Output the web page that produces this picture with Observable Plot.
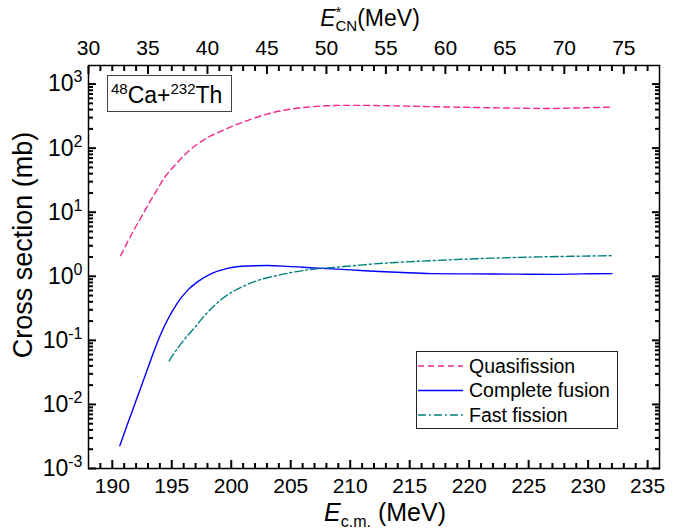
<!DOCTYPE html>
<html>
<head>
<meta charset="utf-8">
<script src="https://cdn.jsdelivr.net/npm/d3@7"></script>
<script src="https://cdn.jsdelivr.net/npm/@observablehq/plot@0.6"></script>
<style>
html,body{margin:0;padding:0;background:#fff;}
#chart svg{display:block;}
</style>
</head>
<body>
<div id="chart"></div>
<script>
// ---------------- data ----------------
const qfEnergy = [190.7, 191.2, 191.8, 192.4, 193.2, 193.8, 194.4, 195.3, 196.3, 197.7, 199.3, 201.4, 203.0, 204.7, 206.3, 208.0, 210.0, 212.0, 215.0, 218.0, 221.0, 224.0, 226.5, 229.0, 232.0];
const qfSigma  = [2.1, 3.2, 5.2, 8.2, 15, 23, 35, 55, 86, 135, 190, 272, 340, 398, 435, 458, 466, 463, 452, 440, 430, 421, 416, 424, 438];

const cfEnergy = [190.63, 191.28, 191.84, 192.4, 192.96, 193.52, 194.08, 194.64, 195.48, 196.32, 197.16, 198.29, 199.69, 201.37, 203.05, 204.74, 206.97, 210.06, 212.0, 214.0, 216.8, 220.0, 224.0, 227.0, 229.5, 232.0];
const cfSigma  = [0.00226, 0.00494, 0.00955, 0.01845, 0.0357, 0.069, 0.126, 0.208, 0.384, 0.603, 0.818, 1.09, 1.33, 1.45, 1.47, 1.43, 1.35, 1.26, 1.2, 1.155, 1.1, 1.09, 1.08, 1.07, 1.09, 1.1];

const ffEnergy = [194.78, 195.76, 196.88, 198.01, 199.4, 200.81, 202.21, 204.17, 206.42, 208.66, 210.06, 212.0, 214.0, 217.0, 220.0, 222.4, 225.0, 228.0, 232.0];
const ffSigma  = [0.048, 0.088, 0.155, 0.274, 0.47, 0.67, 0.857, 1.06, 1.26, 1.38, 1.45, 1.56, 1.65, 1.76, 1.86, 1.93, 1.99, 2.04, 2.1];

const seriesNames = ["Quasifission", "Complete fusion", "Fast fission"];
const ecmTicks = [190, 195, 200, 205, 210, 215, 220, 225, 230, 235];
const eStarTicks = [30, 35, 40, 45, 50, 55, 60, 65, 70, 75];
const sigmaTicks = [1e-3, 1e-2, 1e-1, 1, 10, 100, 1000];
const sigmaTickLabels = ["10^-3", "10^-2", "10^-1", "10^0", "10^1", "10^2", "10^3"];
const eStarOffset = 158; // E*CN = Ecm - 158 MeV
const ecmDomain = [188, 236];
const sigmaDomain = [1e-3, 1950];

// ---------------- layout ----------------
const W = 689, H = 529, mL = 88, mR = 30, mT = 65, mB = 61;
const majorLen = 8, minorLen = 5;
const FONT = "'Liberation Sans', Arial, Helvetica, sans-serif";
const colors = ["#f0288c", "#0000ff", "#008080"];
const dashes = ["6,4", null, "8,3,2,3"];

const ecmMinor = d3.range(189, 236).filter(v => v % 5 !== 0);
const eStarMinorEcm = d3.range(31, 78).filter(v => v % 5 !== 0).map(v => v + eStarOffset);
const eStarMajorEcm = eStarTicks.map(v => v + eStarOffset);
const sigmaMinor = [];
for (let e = -3; e <= 3; e++) for (let k = 2; k <= 9; k++) { const v = k * Math.pow(10, e); if (v < sigmaDomain[1]) sigmaMinor.push(v); }

const toRows = (E, S) => E.map((e, i) => ({e, s: S[i]}));
const seriesRows = [toRows(qfEnergy, qfSigma), toRows(cfEnergy, cfSigma), toRows(ffEnergy, ffSigma)];

// inward tick marks drawn by Plot axis marks (negative tick size, no labels)
const noLabel = () => null;
const tickOpts = {stroke: "#000", strokeWidth: 2, label: null, tickFormat: noLabel};
const inwardTicks = [
  Plot.axisX({anchor: "bottom", ticks: ecmTicks, tickSize: -majorLen, ...tickOpts}),
  Plot.axisX({anchor: "bottom", ticks: ecmMinor, tickSize: -minorLen, ...tickOpts}),
  Plot.axisX({anchor: "top", ticks: eStarMajorEcm, tickSize: -majorLen, ...tickOpts}),
  Plot.axisX({anchor: "top", ticks: eStarMinorEcm, tickSize: -minorLen, ...tickOpts}),
  Plot.axisY({anchor: "left", ticks: sigmaTicks, tickSize: -majorLen, ...tickOpts}),
  Plot.axisY({anchor: "left", ticks: sigmaMinor, tickSize: -minorLen, ...tickOpts}),
  Plot.axisY({anchor: "right", ticks: sigmaTicks, tickSize: -majorLen, ...tickOpts}),
  Plot.axisY({anchor: "right", ticks: sigmaMinor, tickSize: -minorLen, ...tickOpts})
];

const chart = Plot.plot({
  width: W, height: H,
  marginLeft: mL, marginRight: mR, marginTop: mT, marginBottom: mB,
  style: {fontFamily: FONT, fontSize: "21px", color: "#000", background: "#fff"},
  x: {type: "linear", domain: ecmDomain},
  y: {type: "log", domain: sigmaDomain},
  marks: [
    ...seriesRows.map((rows, i) => Plot.line(rows, {
      x: "e", y: "s", stroke: colors[i], strokeWidth: 1.4,
      strokeDasharray: dashes[i], curve: "monotone-x"
    })),
    ...inwardTicks,
    // tick labels
    Plot.axisX({anchor: "bottom", ticks: ecmTicks, tickSize: 0, tickPadding: 10, label: null, fontSize: 21}),
    Plot.axisX({anchor: "top", ticks: eStarMajorEcm, tickSize: 0, tickPadding: 11, label: null, fontSize: 21,
                tickFormat: d => String(Math.round(d - eStarOffset))}),
    Plot.axisY({anchor: "left", ticks: sigmaTicks, tickSize: 0, tickPadding: 6, label: null, fontSize: 23,
                tickFormat: d => sigmaTickLabels[sigmaTicks.indexOf(d)]}),
    Plot.frame({stroke: "#000", strokeWidth: 1.5})
  ]
});

document.getElementById("chart").appendChild(chart);
const svg = d3.select(chart);
const NS = "http://www.w3.org/2000/svg";

// superscripts on the y tick labels
chart.querySelectorAll("text").forEach(t => {
  const m = t.textContent.match(/^10\^(-?\d+)$/);
  if (!m) return;
  while (t.firstChild) t.removeChild(t.firstChild);
  const a = document.createElementNS(NS, "tspan"); a.textContent = "10"; t.appendChild(a);
  const b = document.createElementNS(NS, "tspan");
  b.setAttribute("font-size", "16"); b.setAttribute("dy", "-9"); b.textContent = m[1]; t.appendChild(b);
});

// axis titles
const bt = svg.append("text").attr("x", 385).attr("y", 521).attr("text-anchor", "middle")
  .attr("font-family", FONT).attr("font-size", 25).attr("fill", "#000");
bt.append("tspan").attr("font-style", "italic").text("E");
bt.append("tspan").attr("font-size", 16).attr("dy", 6).text("c.m.");
bt.append("tspan").attr("dy", -6).text(" (MeV)");

const tt = svg.append("text").attr("x", 370).attr("y", 26).attr("text-anchor", "middle")
  .attr("font-family", FONT).attr("font-size", 23).attr("fill", "#000");
tt.append("tspan").attr("font-style", "italic").text("E");
tt.append("tspan").attr("font-size", 15).attr("dy", -9).text("*");
tt.append("tspan").attr("font-size", 15).attr("dx", "-0.389em").attr("dy", 14).text("CN");
tt.append("tspan").attr("dy", -5).text("(MeV)");

svg.append("text").attr("transform", "translate(32,245) rotate(-90)").attr("text-anchor", "middle")
  .attr("font-family", FONT).attr("font-size", 27).attr("fill", "#000").text("Cross section (mb)");

// reaction label box
svg.append("rect").attr("x", 107.5).attr("y", 75.5).attr("width", 124).attr("height", 36)
  .attr("fill", "#fff").attr("stroke", "#444").attr("stroke-width", 1);
const rl = svg.append("text").attr("x", 111).attr("y", 103).attr("text-anchor", "start")
  .attr("font-family", FONT).attr("font-size", 23).attr("fill", "#000");
rl.append("tspan").attr("font-size", 15).attr("dy", -9).text("48");
rl.append("tspan").attr("dy", 9).text("Ca+");
rl.append("tspan").attr("font-size", 15).attr("dy", -9).text("232");
rl.append("tspan").attr("dy", 9).text("Th");

// legend
const lg = svg.append("g");
lg.append("rect").attr("x", 416.5).attr("y", 351.5).attr("width", 201).attr("height", 77)
  .attr("fill", "#fff").attr("stroke", "#222").attr("stroke-width", 1);
seriesNames.forEach((name, i) => {
  const y = 366 + i * 24.5;
  lg.append("line").attr("x1", 418).attr("x2", 463).attr("y1", y).attr("y2", y)
    .attr("stroke", colors[i]).attr("stroke-width", 1.4).attr("stroke-dasharray", dashes[i]);
  lg.append("text").attr("x", 469).attr("y", y).attr("dy", "0.35em").attr("text-anchor", "start")
    .attr("font-family", FONT).attr("font-size", 19.5).attr("fill", "#000").text(name);
});
</script>
</body>
</html>
